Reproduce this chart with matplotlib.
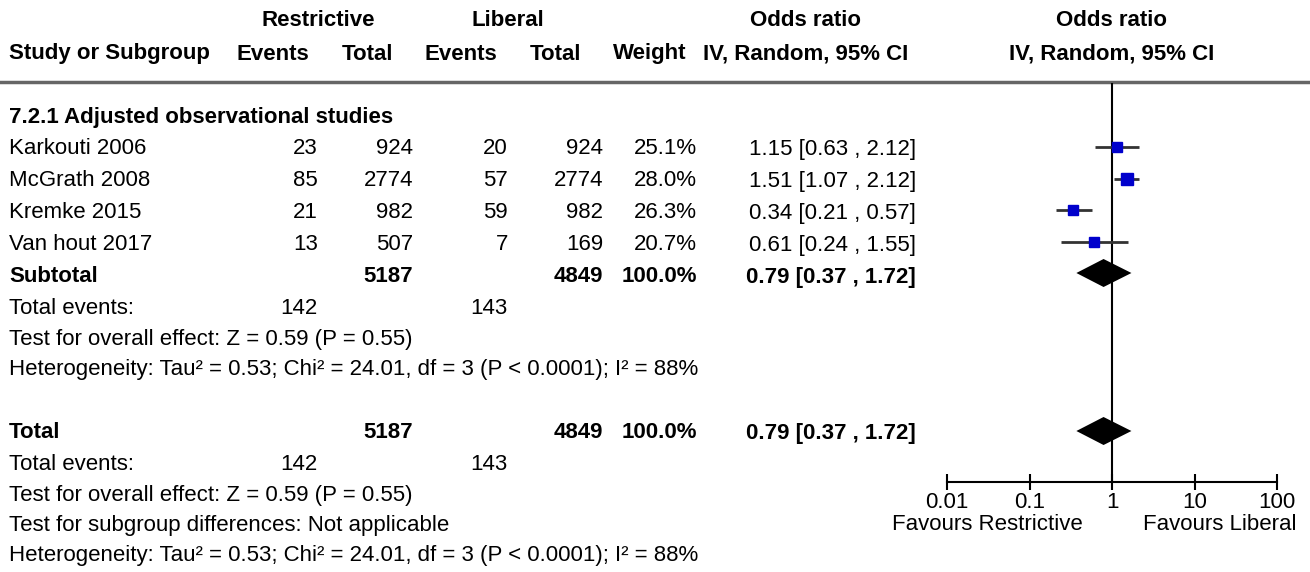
import numpy as np
import matplotlib
matplotlib.use("Agg")
import matplotlib.pyplot as plt

plt.rcParams['font.family'] = ['Liberation Sans', 'DejaVu Sans']

# study data
studies = ["Karkouti 2006", "McGrath 2008", "Kremke 2015", "Van hout 2017"]
res_events = [23, 85, 21, 13]
res_total = [924, 2774, 982, 507]
lib_events = [20, 57, 59, 7]
lib_total = [924, 2774, 982, 169]
weights = [25.1, 28.0, 26.3, 20.7]
odds = [1.15, 1.51, 0.34, 0.61]
lo = [0.63, 1.07, 0.21, 0.24]
hi = [2.12, 2.12, 0.57, 1.55]

# pooled
pooled = [0.79, 0.37, 1.72]
sum_res_total = 5187
sum_lib_total = 4849
sum_res_events = 142
sum_lib_events = 143
overall_txt = "Test for overall effect: Z = 0.59 (P = 0.55)"
het_txt = "Heterogeneity: Tau\u00b2 = 0.53; Chi\u00b2 = 24.01, df = 3 (P < 0.0001); I\u00b2 = 88%"
subgrp_txt = "Test for subgroup differences: Not applicable"

ticks = [0.01, 0.1, 1, 10, 100]
tick_labels = ["0.01", "0.1", "1", "10", "100"]

W, H = 1310, 572
fig = plt.figure(figsize=(W / 100, H / 100), dpi=100)
ax = fig.add_axes([0, 0, 1, 1])
ax.set_xlim(0, W)
ax.set_ylim(H, 0)
ax.axis("off")

fs = 16

def txt(x, y, s, ha="left", bold=False):
    ax.text(x, y, s, ha=ha, va="center", fontsize=fs,
            fontweight="bold" if bold else "normal")

# column x positions (right edges for numbers)
c_name = 9
c_re, c_rt, c_le, c_lt, c_w, c_or = 318, 413, 508, 603, 697, 916

# headers
txt(318, 21, "Restrictive", "center", True)
txt(508, 21, "Liberal", "center", True)
txt(806, 21, "Odds ratio", "center", True)
txt(1112, 21, "Odds ratio", "center", True)
txt(c_name, 54, "Study or Subgroup", bold=True)
txt(273, 54, "Events", "center", True)
txt(367, 54, "Total", "center", True)
txt(461, 54, "Events", "center", True)
txt(556, 54, "Total", "center", True)
txt(650, 54, "Weight", "center", True)
txt(806, 54, "IV, Random, 95% CI", "center", True)
txt(1112, 54, "IV, Random, 95% CI", "center", True)
ax.plot([0, W], [82, 82], color="#666666", lw=2.5)

txt(c_name, 118, "7.2.1 Adjusted observational studies", bold=True)

row_y = [149, 181, 213, 245]
for i, y in enumerate(row_y):
    txt(c_name, y, studies[i])
    txt(c_re, y, str(res_events[i]), "right")
    txt(c_rt, y, str(res_total[i]), "right")
    txt(c_le, y, str(lib_events[i]), "right")
    txt(c_lt, y, str(lib_total[i]), "right")
    txt(c_w, y, "%.1f%%" % weights[i], "right")
    txt(c_or, y, "%.2f [%.2f , %.2f]" % (odds[i], lo[i], hi[i]), "right")

pooled_str = "%.2f [%.2f , %.2f]" % (pooled[0], pooled[1], pooled[2])
for y, label in [(277, "Subtotal"), (433, "Total")]:
    txt(c_name, y, label, bold=True)
    txt(c_rt, y, str(sum_res_total), "right", True)
    txt(c_lt, y, str(sum_lib_total), "right", True)
    txt(c_w, y, "100.0%", "right", True)
    txt(c_or, y, pooled_str, "right", True)

for y in [308, 464]:
    txt(c_name, y, "Total events:")
    txt(c_re, y, str(sum_res_events), "right")
    txt(c_le, y, str(sum_lib_events), "right")

txt(c_name, 339, overall_txt)
txt(c_name, 370, het_txt)
txt(c_name, 495, overall_txt)
txt(c_name, 525, subgrp_txt)
txt(c_name, 556, het_txt)

# forest plot axes
x0, x1 = 947, 1277
ytop, ybot = 83, 482
fx = fig.add_axes([x0 / W, (H - ybot) / H, (x1 - x0) / W, (ybot - ytop) / H])
fx.set_xscale("log")
fx.set_xlim(0.01, 100)
fx.set_ylim(ybot, ytop)
fx.patch.set_alpha(0)
for s in ["top", "left", "right"]:
    fx.spines[s].set_visible(False)
fx.spines["bottom"].set_linewidth(1.5)
fx.set_yticks([])
fx.set_xticks(ticks)
fx.set_xticklabels(tick_labels)
fx.xaxis.set_minor_locator(matplotlib.ticker.NullLocator())
fx.tick_params(axis="x", direction="inout", length=12, width=1.5,
               labelsize=fs, pad=1)

fx.axvline(1, color="black", lw=1.5)

mk_y = [147, 179, 210, 242]
for i, y in enumerate(mk_y):
    fx.plot([lo[i], hi[i]], [y, y], color="#333333", lw=2, solid_capstyle="butt")
    fx.plot(odds[i], y, marker="s", color="#0000cc", markeredgecolor="#0000cc",
            markersize=np.sqrt(weights[i]) * 1.5)

for y in [273, 431]:
    fx.fill([pooled[1], pooled[0], pooled[2], pooled[0]],
            [y, y - 14, y, y + 14], color="black", lw=0)

txt(987, 525, "Favours Restrictive", "center")
txt(1220, 525, "Favours Liberal", "center")

fig.savefig("out.png", dpi=100)
